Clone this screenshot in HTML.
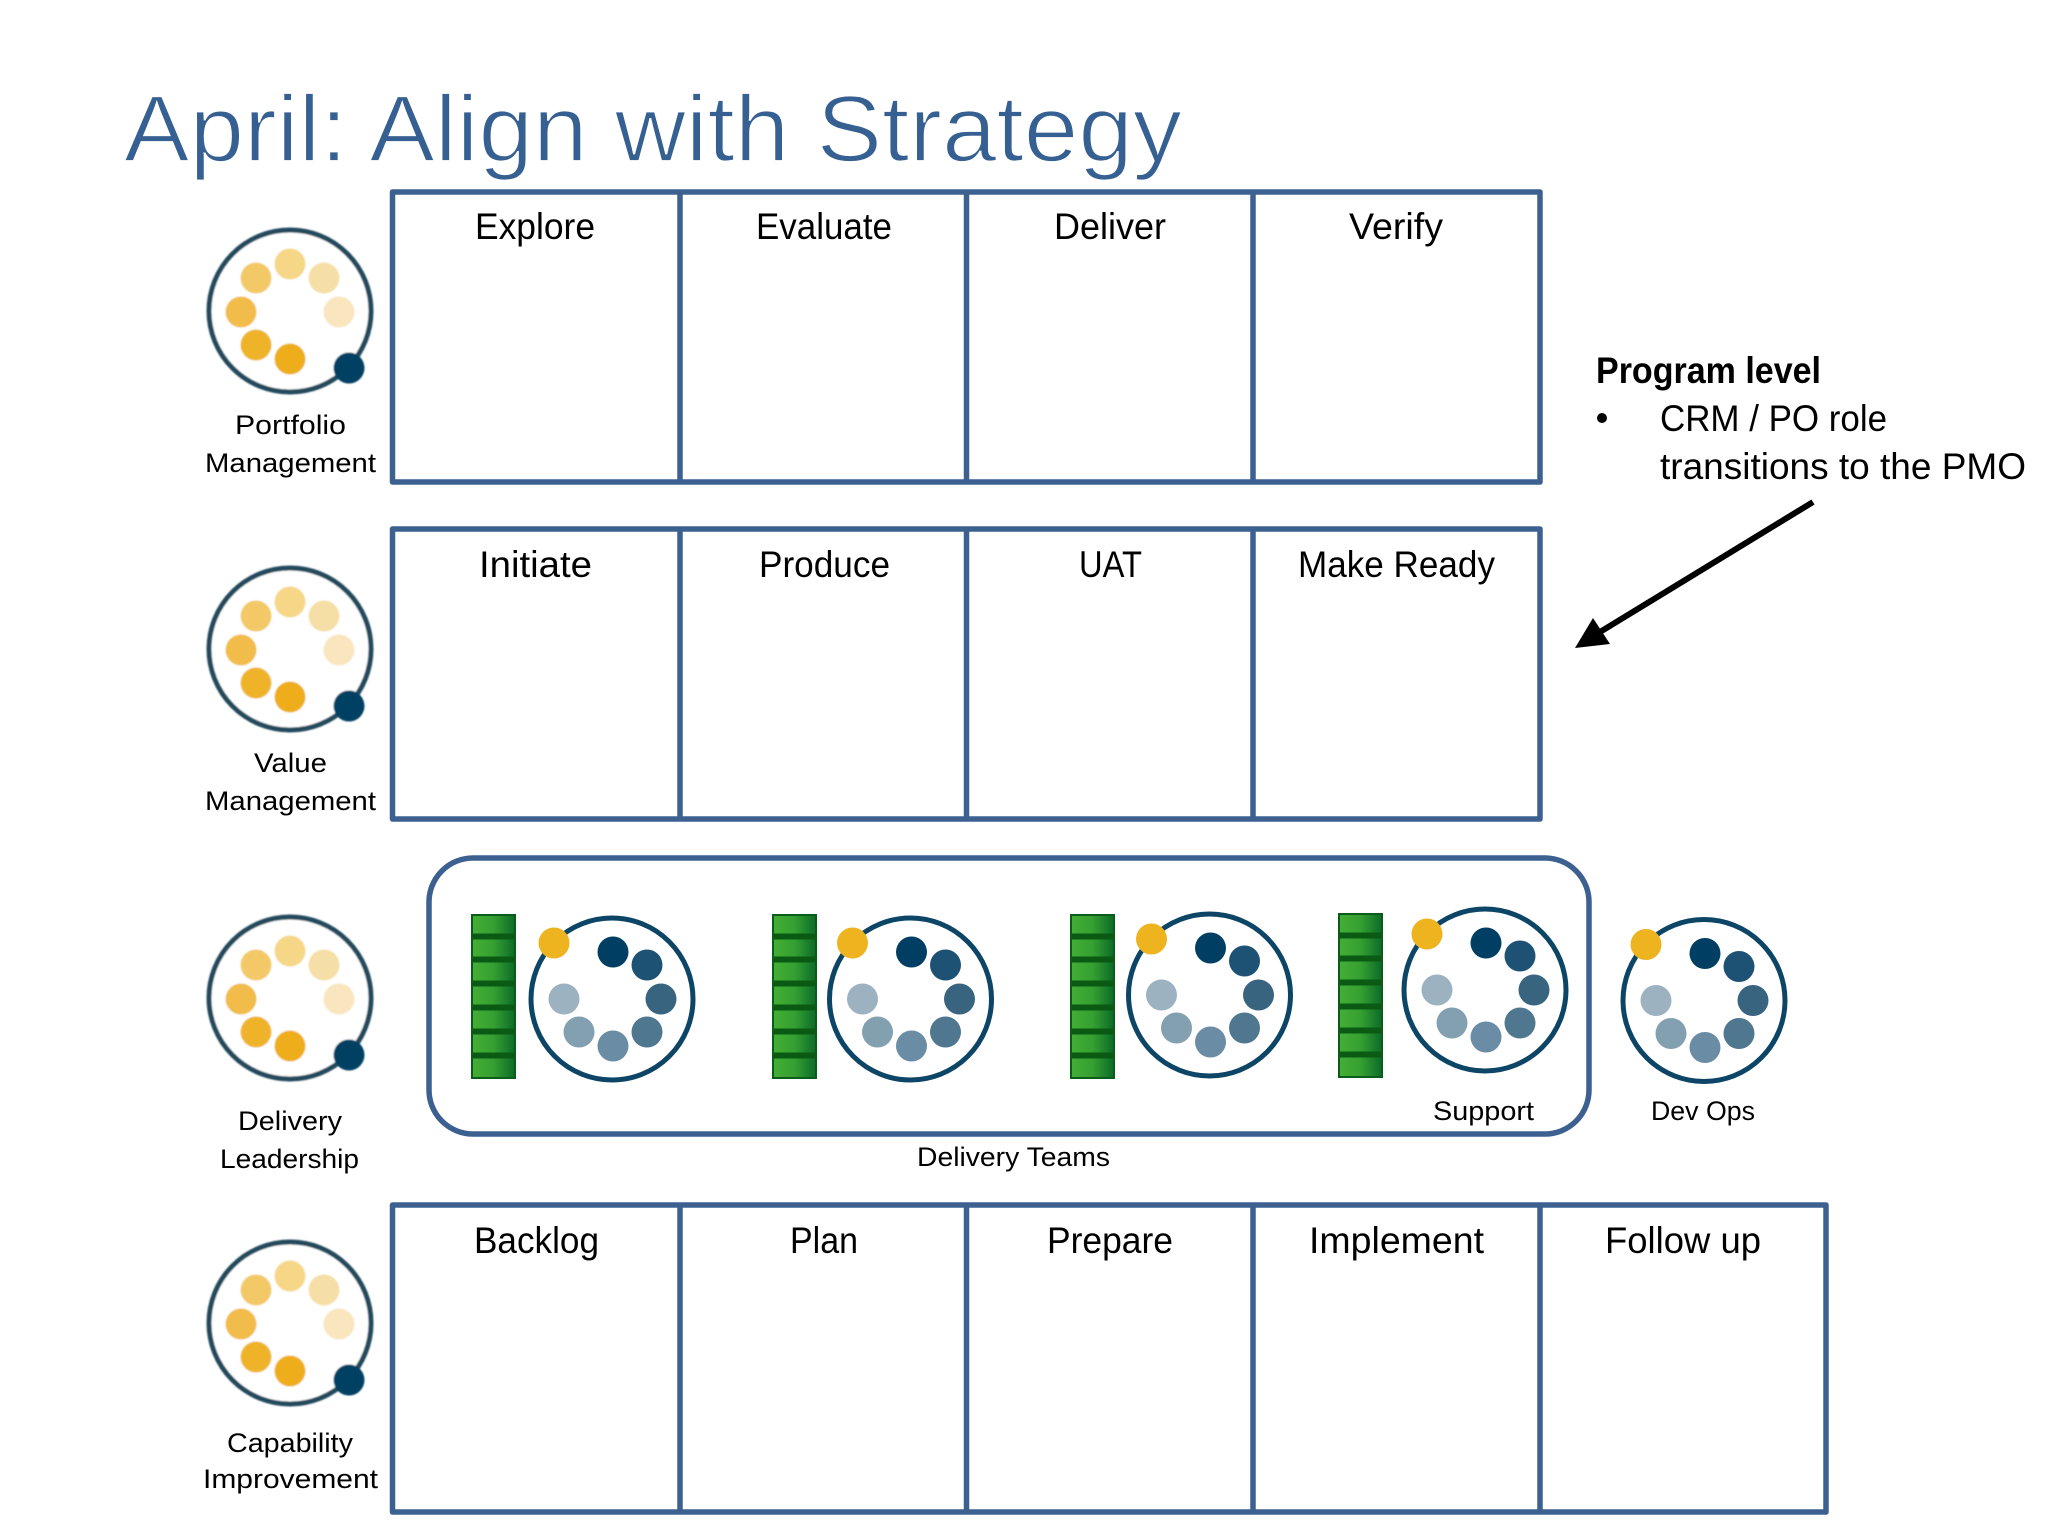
<!DOCTYPE html>
<html><head><meta charset="utf-8"><title>April: Align with Strategy</title>
<style>html,body{margin:0;padding:0;background:#fff}svg{display:block}
text{font-family:"Liberation Sans",sans-serif;fill:#000;font-size:27px}
.h{font-size:37px}.t{font-size:94px;fill:#366092;stroke:#fff;stroke-width:1.8px;paint-order:normal}
</style></head><body>
<svg xmlns="http://www.w3.org/2000/svg" width="2048" height="1536" viewBox="0 0 2048 1536">
<defs>
<filter id="b"><feGaussianBlur stdDeviation="0.7"/></filter>
<linearGradient id="g" x1="0" x2="1" y1="0" y2="0"><stop offset="0" stop-color="#45ae36"/><stop offset=".5" stop-color="#35a031"/><stop offset="1" stop-color="#0c6b28"/></linearGradient>
<g id="y" filter="url(#b)">
<circle r="81" fill="#fff" stroke="#24495c" stroke-width="5"/>
<circle cx="0" cy="-47" r="15.500" fill="#f6d788"/><circle cx="34" cy="-33" r="15.500" fill="#f6dfa6"/><circle cx="49" cy="1" r="15.500" fill="#f9e6bf"/>
<circle cx="-34" cy="-33" r="15.500" fill="#f3c968"/><circle cx="-49" cy="1" r="15.500" fill="#f1bc4a"/><circle cx="-34" cy="34" r="15.500" fill="#efb32a"/><circle cx="0" cy="48" r="15.500" fill="#eeae1e"/>
<circle cx="59" cy="57" r="15.500" fill="#043f62"/></g>
<g id="n">
<circle r="81" fill="#fff" stroke="#0d4566" stroke-width="5"/>
<circle cx="1" cy="-47" r="15.500" fill="#003f63"/><circle cx="35" cy="-34" r="15.500" fill="#1e5274"/><circle cx="49" cy="0" r="15.500" fill="#38647f"/><circle cx="35" cy="33" r="15.500" fill="#4f7790"/><circle cx="1" cy="47" r="15.500" fill="#6a8ca5"/><circle cx="-33" cy="33" r="15.500" fill="#83a0b1"/><circle cx="-48" cy="0" r="15.500" fill="#9db2c0"/>
<circle cx="-58" cy="-56" r="15.500" fill="#eeb41f"/></g>
<g id="bar">
<rect x="1" y="1" width="43" height="163" fill="url(#g)" stroke="#0a5c1a" stroke-width="2"/>
<rect x="1" y="19.500" width="43" height="6" fill="#0a5a14"/><rect x="1" y="42.500" width="43" height="6" fill="#0a5a14"/><rect x="1" y="66.500" width="43" height="6" fill="#0a5a14"/><rect x="1" y="90.500" width="43" height="6" fill="#0a5a14"/><rect x="1" y="114.500" width="43" height="6" fill="#0a5a14"/><rect x="1" y="138.500" width="43" height="6" fill="#0a5a14"/>
</g>
</defs>
<rect width="2048" height="1536" fill="#fff"/>
<text class="t" x="124" y="161" textLength="1058" lengthAdjust="spacingAndGlyphs">April: Align with Strategy</text>
<g fill="none" stroke="#3c6191" stroke-width="5.500" stroke-linejoin="round">
<path d="M392.500 192H1540V482H392.500ZM680 192V482M966.500 192V482M1253 192V482"/>
<path d="M392.500 529H1540V819H392.500ZM680 529V819M966.500 529V819M1253 529V819"/>
<path d="M392.500 1205H1826V1512H392.500ZM680 1205V1512M966.500 1205V1512M1253 1205V1512M1540 1205V1512"/>
<rect x="429" y="858" width="1160" height="276" rx="44" ry="44"/>
</g>
<text class="h" x="475" y="239" textLength="120" lengthAdjust="spacingAndGlyphs">Explore</text>
<text class="h" x="756" y="239" textLength="136" lengthAdjust="spacingAndGlyphs">Evaluate</text>
<text class="h" x="1054" y="239" textLength="112" lengthAdjust="spacingAndGlyphs">Deliver</text>
<text class="h" x="1349" y="239" textLength="94" lengthAdjust="spacingAndGlyphs">Verify</text>
<text class="h" x="479" y="577" textLength="113" lengthAdjust="spacingAndGlyphs">Initiate</text>
<text class="h" x="759" y="577" textLength="131" lengthAdjust="spacingAndGlyphs">Produce</text>
<text class="h" x="1079" y="577" textLength="63" lengthAdjust="spacingAndGlyphs">UAT</text>
<text class="h" x="1298" y="577" textLength="197" lengthAdjust="spacingAndGlyphs">Make Ready</text>
<text class="h" x="474" y="1253" textLength="125" lengthAdjust="spacingAndGlyphs">Backlog</text>
<text class="h" x="790" y="1253" textLength="68" lengthAdjust="spacingAndGlyphs">Plan</text>
<text class="h" x="1047" y="1253" textLength="126" lengthAdjust="spacingAndGlyphs">Prepare</text>
<text class="h" x="1309" y="1253" textLength="175" lengthAdjust="spacingAndGlyphs">Implement</text>
<text class="h" x="1605" y="1253" textLength="156" lengthAdjust="spacingAndGlyphs">Follow up</text>
<use href="#y" x="290" y="311"/><use href="#y" x="290" y="649"/><use href="#y" x="290" y="998"/><use href="#y" x="290" y="1323"/>
<use href="#bar" x="471" y="914"/><use href="#bar" x="772" y="914"/><use href="#bar" x="1070" y="914"/><use href="#bar" x="1338" y="913"/>
<use href="#n" x="612" y="999"/><use href="#n" x="910.500" y="999"/><use href="#n" x="1209.500" y="995"/><use href="#n" x="1485" y="990"/><use href="#n" x="1704" y="1000.500"/>
<text x="235" y="434" textLength="111" lengthAdjust="spacingAndGlyphs">Portfolio</text>
<text x="205" y="472" textLength="171" lengthAdjust="spacingAndGlyphs">Management</text>
<text x="254" y="772" textLength="73" lengthAdjust="spacingAndGlyphs">Value</text>
<text x="205" y="810" textLength="171" lengthAdjust="spacingAndGlyphs">Management</text>
<text x="238" y="1130" textLength="104" lengthAdjust="spacingAndGlyphs">Delivery</text>
<text x="220" y="1168" textLength="139" lengthAdjust="spacingAndGlyphs">Leadership</text>
<text x="227" y="1452" textLength="126" lengthAdjust="spacingAndGlyphs">Capability</text>
<text x="203" y="1488" textLength="175" lengthAdjust="spacingAndGlyphs">Improvement</text>
<text x="1433" y="1120" textLength="101" lengthAdjust="spacingAndGlyphs">Support</text>
<text x="1651" y="1120" textLength="104" lengthAdjust="spacingAndGlyphs">Dev Ops</text>
<text x="917" y="1166" textLength="193" lengthAdjust="spacingAndGlyphs">Delivery Teams</text>
<text class="h" x="1596" y="383" textLength="225" lengthAdjust="spacingAndGlyphs" font-weight="bold">Program level</text>
<circle cx="1602" cy="418" r="5" fill="#000"/>
<text class="h" x="1660" y="431" textLength="227" lengthAdjust="spacingAndGlyphs">CRM / PO role</text>
<text class="h" x="1660" y="479" textLength="366" lengthAdjust="spacingAndGlyphs">transitions to the PMO</text>
<line x1="1813" y1="502" x2="1595" y2="635" stroke="#000" stroke-width="6"/>
<polygon points="1575,648 1593,618 1610,644" fill="#000"/>
</svg>
</body></html>
